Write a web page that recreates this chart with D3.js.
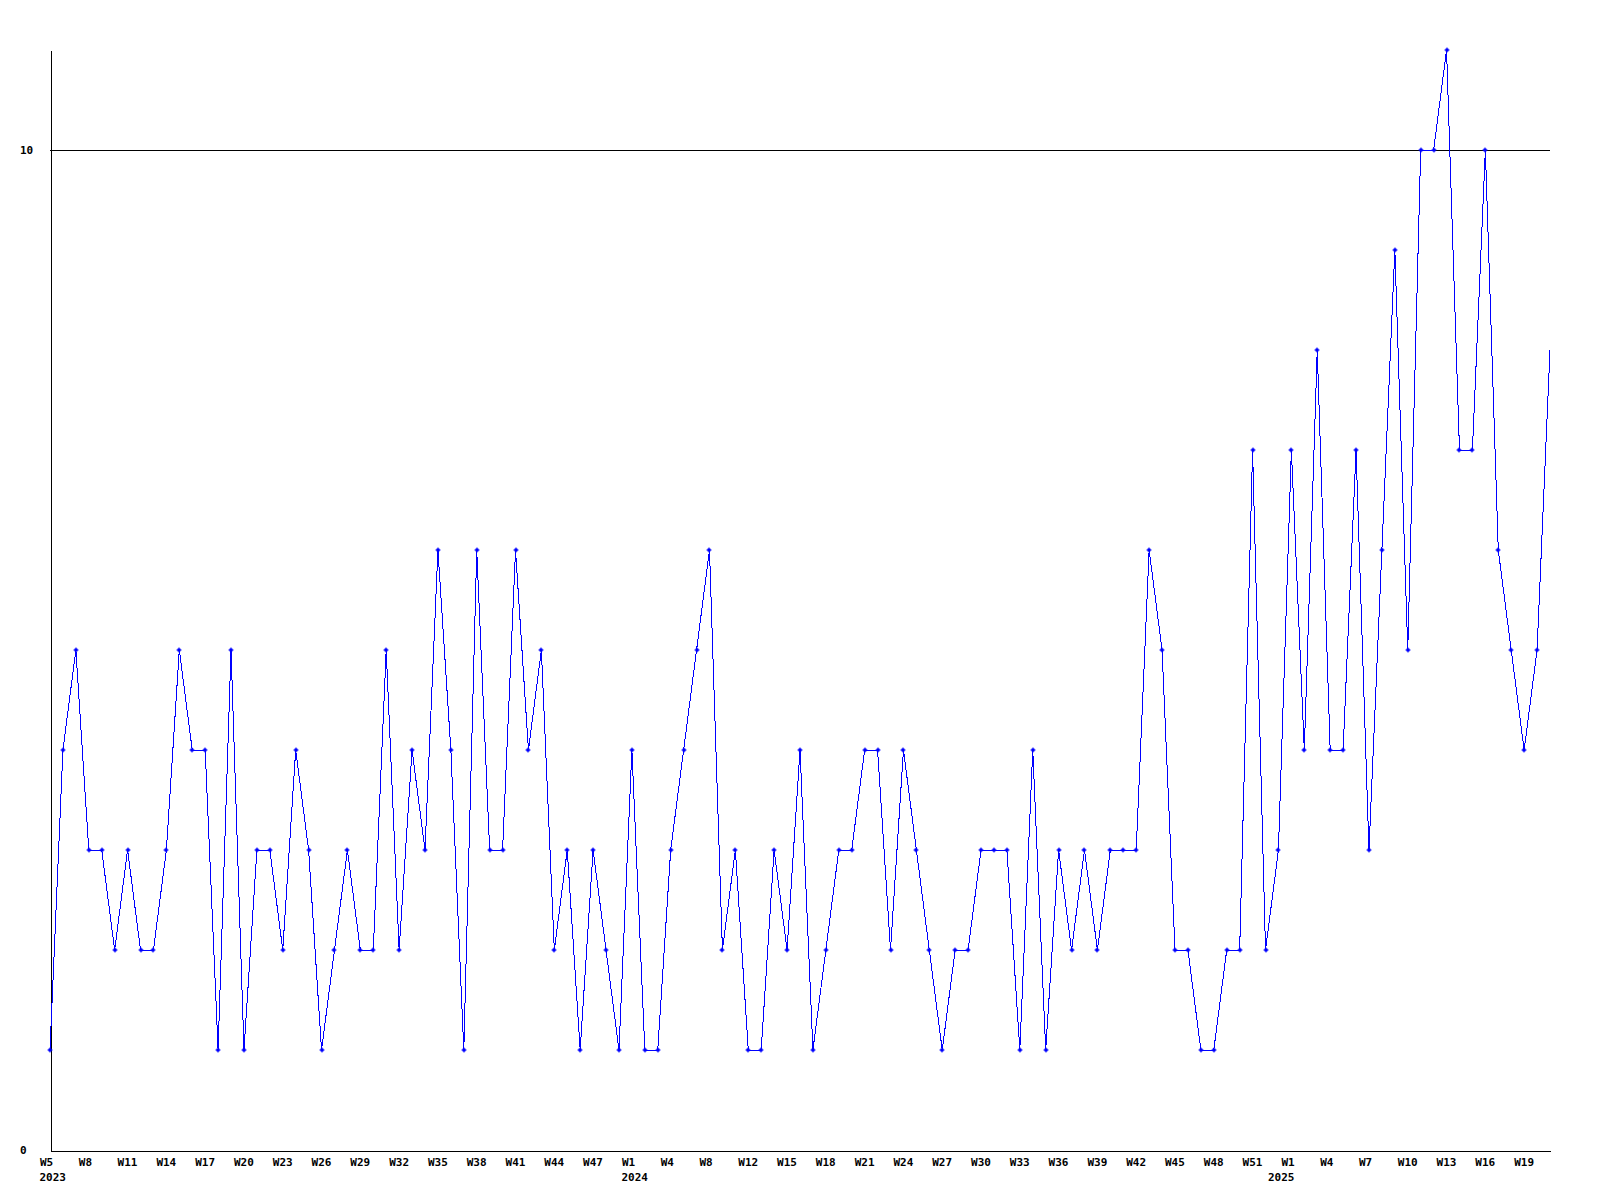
<!DOCTYPE html>
<html>
<head>
<meta charset="utf-8">
<script src="https://cdn.jsdelivr.net/npm/d3@7"></script>
<style>
  html, body { margin: 0; padding: 0; background: #fff; }
  svg { display: block; }
  text { font-family: "DejaVu Sans Mono", "Liberation Mono", monospace; font-weight: bold; font-size: 11px; fill: #000; }
</style>
</head>
<body>
<svg id="chart" width="1600" height="1200"></svg>
<script>
// Categories: ISO-style weeks that carry data (weeks without data are absent)
const weeks = [
  "2023-W5","2023-W6","2023-W7","2023-W8","2023-W9","2023-W10","2023-W11","2023-W12","2023-W13","2023-W14",
  "2023-W15","2023-W16","2023-W17","2023-W18","2023-W19","2023-W20","2023-W21","2023-W22","2023-W23","2023-W24",
  "2023-W25","2023-W26","2023-W27","2023-W28","2023-W29","2023-W30","2023-W31","2023-W32","2023-W33","2023-W34",
  "2023-W35","2023-W36","2023-W37","2023-W38","2023-W39","2023-W40","2023-W41","2023-W42","2023-W43","2023-W44",
  "2023-W45","2023-W46","2023-W47","2023-W48","2023-W50",
  "2024-W1","2024-W2","2024-W3","2024-W4","2024-W5","2024-W6","2024-W8","2024-W9","2024-W10","2024-W12",
  "2024-W13","2024-W14","2024-W15","2024-W16","2024-W17","2024-W18","2024-W19","2024-W20","2024-W21","2024-W22",
  "2024-W23","2024-W24","2024-W25","2024-W26","2024-W27","2024-W28","2024-W29","2024-W30","2024-W31","2024-W32",
  "2024-W33","2024-W34","2024-W35","2024-W36","2024-W37","2024-W38","2024-W39","2024-W40","2024-W41","2024-W42",
  "2024-W43","2024-W44","2024-W45","2024-W46","2024-W47","2024-W48","2024-W49","2024-W50","2024-W51","2024-W52",
  "2025-W0",
  "2025-W1","2025-W2","2025-W3","2025-W4","2025-W5","2025-W6","2025-W7","2025-W8","2025-W9","2025-W10",
  "2025-W11","2025-W12","2025-W13","2025-W14","2025-W15","2025-W16","2025-W17","2025-W18","2025-W19","2025-W20",
  "2025-W21"
];

const values = [
  1,4,5,3,3,2,3,2,2,3,
  5,4,4,1,5,1,3,3,2,4,
  3,1,2,3,2,2,5,2,4,3,
  6,4,1,6,3,3,6,4,5,2,
  3,1,3,2,1,
  4,1,1,3,4,5,6,2,3,1,
  1,3,2,4,1,2,3,3,4,4,
  2,4,3,2,1,2,2,3,3,3,
  1,4,1,3,2,3,2,3,3,3,
  6,5,2,2,1,1,2,2,7,2,
  3,
  7,4,8,4,4,7,3,6,9,5,
  10,10,11,7,7,10,6,5,4,5,
  8
];

// Week tick labels shown every third category
const tickLabels = ["W5","W8","W11","W14","W17","W20","W23","W26","W29","W32","W35","W38","W41","W44","W47",
  "W1","W4","W8","W12","W15","W18","W21","W24","W27","W30","W33","W36","W39","W42","W45","W48","W51",
  "W1","W4","W7","W10","W13","W16","W19"];
const tickWeeks = weeks.filter((d, i) => i % 3 === 0);

// Year labels and the category where each starts
const yearLabels = ["2023", "2024", "2025"];
const yearWeeks = ["2023-W5", "2024-W1", "2025-W0"];

const yTicks = [0, 10];
const gridValues = [10];

const svg = d3.select("#chart");
const mLeft = 50, mRight = 1550, mTop = 50, mBottom = 1150;

const x = d3.scalePoint().domain(weeks).range([mLeft, mRight]);
const y = d3.scaleLinear().domain([0, 11]).range([mBottom, mTop]);

// gridline
svg.append("g").selectAll("line").data(gridValues).join("line")
  .attr("x1", mLeft).attr("x2", mRight)
  .attr("y1", d => Math.round(y(d)) + 0.5).attr("y2", d => Math.round(y(d)) + 0.5)
  .attr("stroke", "#000").attr("stroke-width", 1).attr("shape-rendering", "crispEdges");

// x axis
const xAxis = svg.append("g").attr("transform", `translate(0,${mBottom + 0.5})`)
  .call(d3.axisBottom(x).tickValues(tickWeeks).tickSize(0).tickSizeOuter(0)
    .tickFormat((d, i) => tickLabels[i]));
xAxis.attr("font-family", null).attr("font-size", null);
xAxis.select(".domain").attr("stroke", "#000").attr("shape-rendering", "crispEdges");
xAxis.selectAll("text").attr("text-anchor", "start").attr("dx", -10.5).attr("dy", 0).attr("y", 15.5);

// year labels
svg.append("g").selectAll("text").data(yearLabels).join("text")
  .attr("x", (d, i) => x(yearWeeks[i]) - 10.5)
  .attr("y", mBottom + 31)
  .attr("text-anchor", "start")
  .text(d => d);

// y axis
const yAxis = svg.append("g").attr("transform", `translate(${mLeft + 0.5},0)`)
  .call(d3.axisLeft(y).tickValues(yTicks).tickSize(0).tickSizeOuter(0).tickFormat(d3.format("d")));
yAxis.attr("font-family", null).attr("font-size", null);
yAxis.select(".domain").attr("stroke", "#000").attr("shape-rendering", "crispEdges");
yAxis.selectAll("text").attr("text-anchor", "start").attr("x", -30.5).attr("dy", "0.36em");

// series line
const line = d3.line().x(d => x(d.w)).y(d => y(d.v));
const data = weeks.map((w, i) => ({ w, v: values[i] }));
svg.append("path").datum(data)
  .attr("d", line)
  .attr("fill", "none").attr("stroke", "#0000ff").attr("stroke-width", 1)
  .attr("shape-rendering", "crispEdges");

// point markers (small plus shapes)
const marker = "M-2.5,-0.5h5v1h-5z M-0.5,-2.5h1v5h-1z M-1.5,-1.5h3v3h-3z";
svg.append("g").selectAll("path").data(data.slice(0, data.length - 1)).join("path")
  .attr("transform", d => `translate(${Math.round(x(d.w))},${Math.round(y(d.v))})`)
  .attr("d", marker)
  .attr("fill", "#0000ff");
</script>
</body>
</html>
